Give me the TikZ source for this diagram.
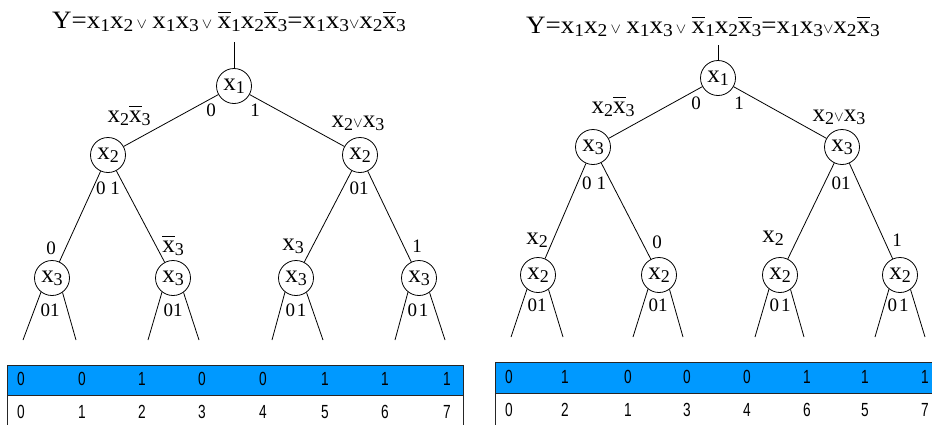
\documentclass[tikz,border=0pt]{standalone}
\usepackage{fontspec}
\usepackage{graphicx}
\setmainfont{Liberation Serif}
\newfontfamily\tabfont{Liberation Sans}
\usetikzlibrary{calc}
\definecolor{rowblue}{RGB}{0,153,255}
\newcommand\mainsz{\fontsize{25}{27}\selectfont}
\newcommand\subsz{\fontsize{18}{19}\selectfont}
\newcommand\vx[1]{x\raisebox{-3pt}{\subsz #1}}
\newcommand\nx[1]{\makebox[0pt][l]{\raisebox{0.64em}{\rule{0.5em}{0.8pt}}}x\raisebox{-3pt}{\subsz #1}}
\newcommand\orr{{\fontsize{14}{14}\selectfont$\vee$}}
\newcommand\orrs{\hspace{3pt}{\fontsize{14}{14}\selectfont$\vee$}\hspace{5pt}}
\newcommand\tn[1]{\scalebox{0.72}[1]{#1}}
\begin{document}
\begin{tikzpicture}[x=1pt,y=-1pt,
  vnode/.style={circle,draw,line width=0.8pt,minimum size=35pt,inner sep=0pt,font=\mainsz},
  txt/.style={inner sep=0pt,font=\mainsz},
  dig/.style={inner sep=0pt,font=\fontsize{19}{20}\selectfont},
  ln/.style={line width=0.8pt},
  tabtxt/.style={inner sep=0pt,font=\tabfont\fontsize{19}{20}\selectfont},
  tabline/.style={line width=0.9pt,draw=black!85}]
\useasboundingbox (0,0) rectangle (932,424);

% ---------- equations ----------
\node[txt] (eqL) at (229,22) {\scalebox{1.08}[1]{Y=\vx1\vx2\orrs\vx1\vx3\orrs\nx1\vx2\nx3=\vx1\vx3\orr\vx2\nx3}};
\node[txt] (eqR) at (703,27) {\scalebox{1.08}[1]{Y=\vx1\vx2\orrs\vx1\vx3\orrs\nx1\vx2\nx3=\vx1\vx3\orr\vx2\nx3}};

% ---------- left tree ----------
\coordinate (Ltop) at (234,42);
\node[vnode] (L1) at (234,86) {\vx1};
\node[vnode] (L2a) at (108,155) {\vx2};
\node[vnode] (L2b) at (360,155) {\vx2};
\node[vnode] (L3a) at (52,278) {\vx3};
\node[vnode] (L3b) at (173,278) {\vx3};
\node[vnode] (L3c) at (296,278) {\vx3};
\node[vnode] (L3d) at (419,278) {\vx3};
\draw[ln] (Ltop) -- (L1);
\draw[ln] (L1) -- (L2a);
\draw[ln] (L1) -- (L2b);
\draw[ln] (L2a) -- (L3a);
\draw[ln] (L2a) -- (L3b);
\draw[ln] (L2b) -- (L3c);
\draw[ln] (L2b) -- (L3d);

\node[txt] (lL1) at (129,116) {\vx2\nx3};
\node[txt] (lL2) at (358,123) {\vx2\orr\vx3};
\node[dig] (lL3) at (51,248) {0};
\node[txt] (lL4) at (173,246) {\nx3};
\node[txt] (lL5) at (293,246) {\vx3};
\node[dig] (lL6) at (417,246) {1};

\node[dig] (bL1a) at (211,110) {0};
\node[dig] (bL1b) at (255,110) {1};
\node[dig] (bL2a) at (108,188) {0\hspace{5pt}1};
\node[dig] (bL2b) at (359,188) {01};
\node[dig] (bL3a) at (50,310) {01};
\node[dig] (bL3b) at (173,310) {01};
\node[dig] (bL3c) at (296,310) {0\hspace{2pt}1};
\node[dig] (bL3d) at (418,310) {0\hspace{2pt}1};

\foreach \n/\a/\b in {L3a/-29/24, L3b/-25/26, L3c/-24/27, L3d/-24/26}{
  \coordinate (\n-l) at ($(\n)+(\a,62)$);
  \coordinate (\n-r) at ($(\n)+(\b,62)$);
  \draw[ln] (\n.-128) -- (\n-l);
  \draw[ln] (\n.-54) -- (\n-r);
}

% ---------- right tree ----------
\coordinate (Rtop) at (718,45);
\node[vnode] (R1) at (718,78) {\vx1};
\node[vnode] (R2a) at (593,147) {\vx3};
\node[vnode] (R2b) at (842,147) {\vx3};
\node[vnode] (R3a) at (538,275) {\vx2};
\node[vnode] (R3b) at (659,275) {\vx2};
\node[vnode] (R3c) at (780,275) {\vx2};
\node[vnode] (R3d) at (900,275) {\vx2};
\draw[ln] (Rtop) -- (R1);
\draw[ln] (R1) -- (R2a);
\draw[ln] (R1) -- (R2b);
\draw[ln] (R2a) -- (R3a);
\draw[ln] (R2a) -- (R3b);
\draw[ln] (R2b) -- (R3c);
\draw[ln] (R2b) -- (R3d);

\node[txt] (lR1) at (613,107) {\vx2\nx3};
\node[txt] (lR2) at (839,117) {\vx2\orr\vx3};
\node[txt] (lR3) at (537,240) {\vx2};
\node[dig] (lR4) at (657,242) {0};
\node[txt] (lR5) at (773,238) {\vx2};
\node[dig] (lR6) at (897,240) {1};

\node[dig] (bR1a) at (696,103) {0};
\node[dig] (bR1b) at (739,103) {1};
\node[dig] (bR2a) at (594,183) {0\hspace{5pt}1};
\node[dig] (bR2b) at (841,183) {01};
\node[dig] (bR3a) at (537,305) {01};
\node[dig] (bR3b) at (658,305) {01};
\node[dig] (bR3c) at (780,305) {0\hspace{2pt}1};
\node[dig] (bR3d) at (898,305) {0\hspace{2pt}1};

\foreach \n/\a/\b in {R3a/-27/25, R3b/-26/24, R3c/-25/24, R3d/-25/25}{
  \coordinate (\n-l) at ($(\n)+(\a,62)$);
  \coordinate (\n-r) at ($(\n)+(\b,62)$);
  \draw[ln] (\n.-128) -- (\n-l);
  \draw[ln] (\n.-54) -- (\n-r);
}

% ---------- left table ----------
\fill[rowblue] (7,365) rectangle (463,395);
\draw[tabline] (7,425) -- (7,365) -- (463,365) -- (463,425);
\draw[tabline] (7,395) -- (463,395);
\foreach \x/\v/\w [count=\i] in {21/0/0, 82/0/1, 142/1/2, 202/0/3, 263/0/4, 325/1/5, 385/1/6, 447/1/7}{
  \node[tabtxt] (tLv\i) at (\x,379) {\tn{\v}};
  \node[tabtxt] (tLi\i) at (\x,412) {\tn{\w}};
}

% ---------- right table ----------
\fill[rowblue] (495,362) rectangle (933,393);
\draw[tabline] (495,425) -- (495,362) -- (933,362);
\draw[tabline] (495,393) -- (933,393);
\foreach \x/\v/\w [count=\i] in {509/0/0, 565/1/2, 628/0/1, 687/0/3, 747/0/4, 807/1/6, 865/1/5, 925/1/7}{
  \node[tabtxt] (tRv\i) at (\x,377) {\tn{\v}};
  \node[tabtxt] (tRi\i) at (\x,410) {\tn{\w}};
}
\end{tikzpicture}
\end{document}
